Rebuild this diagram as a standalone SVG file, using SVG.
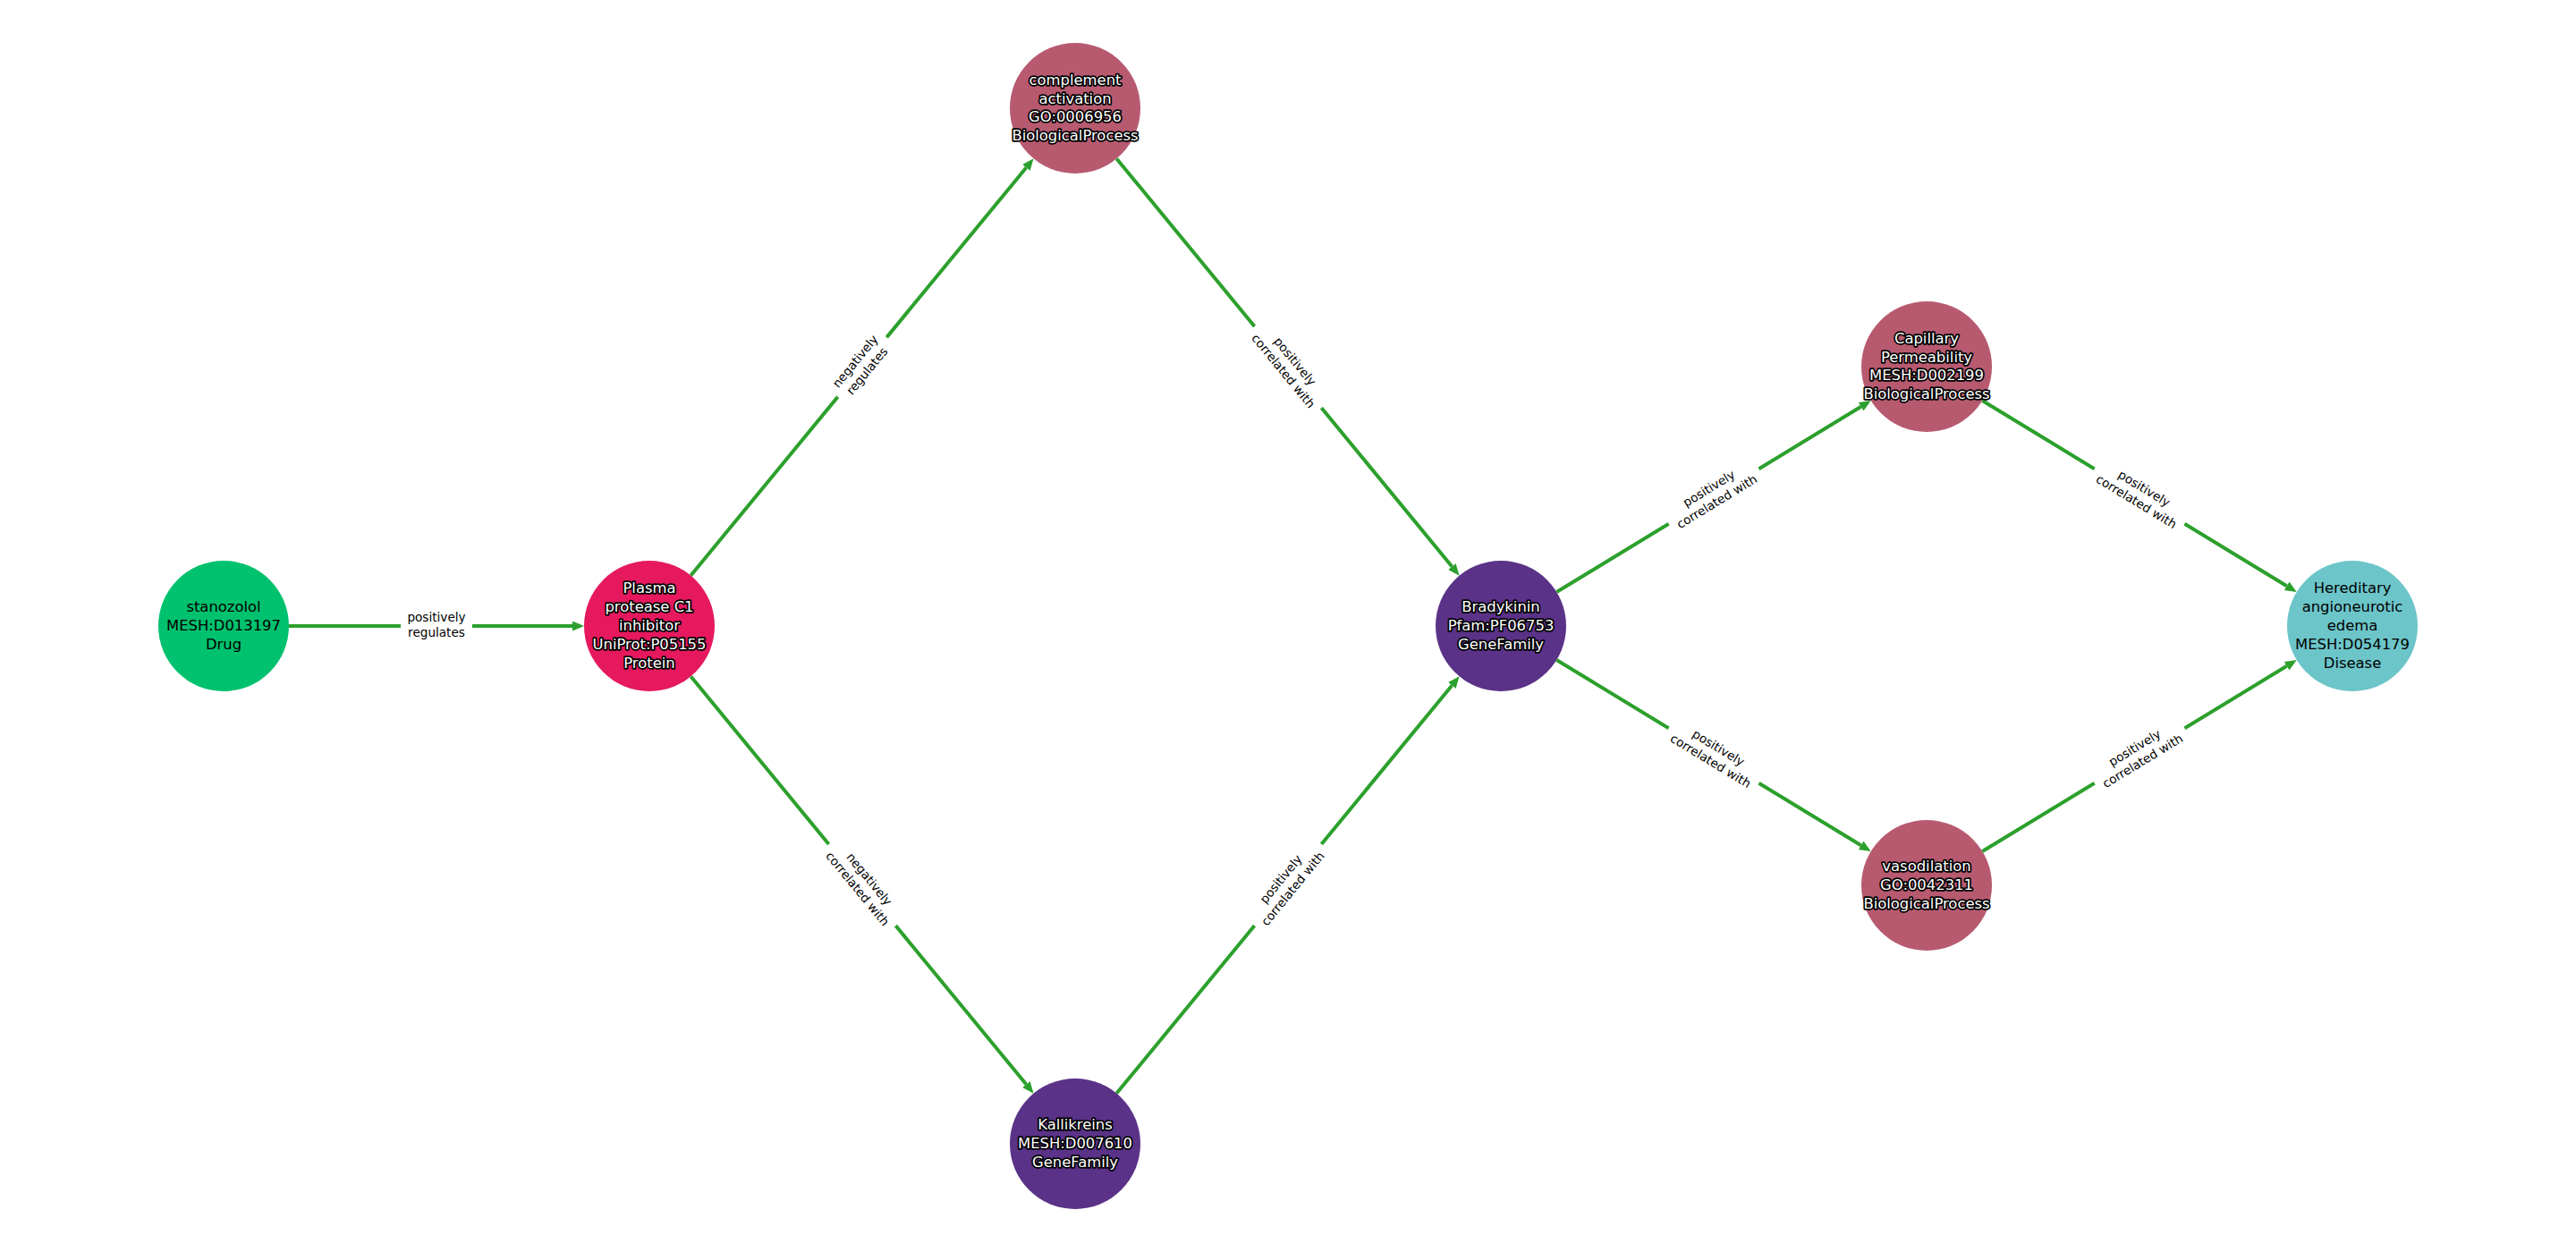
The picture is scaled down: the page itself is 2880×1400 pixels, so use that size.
<svg xmlns="http://www.w3.org/2000/svg" width="2880" height="1400" viewBox="0 0 2880 1400">
<defs>
<style>
.edge{stroke:#2ca02c;stroke-width:4;fill:none;marker-end:url(#arr)}
.lblbox{fill:#ffffff;stroke:#ffffff}
.lbl{font-family:"DejaVu Sans","Liberation Sans",sans-serif;font-size:13.6px;fill:#000000;text-anchor:middle}
.nt{font-family:"DejaVu Sans","Liberation Sans",sans-serif;font-size:16.4px;text-anchor:middle}
.nw{fill:#ffffff;stroke:#000000;stroke-width:3.5px;paint-order:stroke;stroke-linejoin:round}
.nb{fill:#000000}
</style>
<marker id="arr" markerUnits="userSpaceOnUse" markerWidth="14" markerHeight="12" refX="0" refY="5.5" orient="auto">
<path d="M0,0 L13,5.5 L0,11 z" fill="#2ca02c"/>
</marker>
</defs>
<rect width="2880" height="1400" fill="#ffffff"/>
<g id="edges">
<line class="edge" x1="323" y1="700" x2="640" y2="700"/>
<line class="edge" x1="772.4" y1="643.6" x2="1147.3" y2="187.4"/>
<line class="edge" x1="772.4" y1="756.4" x2="1147.3" y2="1212.6"/>
<line class="edge" x1="1248.4" y1="177.4" x2="1623.3" y2="633.6"/>
<line class="edge" x1="1248.4" y1="1222.6" x2="1623.3" y2="766.4"/>
<line class="edge" x1="1740.3" y1="662" x2="2080.6" y2="454.8"/>
<line class="edge" x1="1740.3" y1="738" x2="2080.6" y2="945.2"/>
<line class="edge" x1="2216.3" y1="448" x2="2556.6" y2="655.2"/>
<line class="edge" x1="2216.3" y1="952" x2="2556.6" y2="744.8"/>
<g transform="translate(488,700)"><rect class="lblbox" x="-39.5" y="-21" width="79" height="42" rx="6"/><text class="lbl"><tspan x="0" y="-5.5">positively</tspan><tspan x="0" y="11.5">regulates</tspan></text></g>
<g transform="translate(964,410.5) rotate(-50.6)"><rect class="lblbox" x="-42.5" y="-21" width="85" height="42" rx="6"/><text class="lbl"><tspan x="0" y="-5.5">negatively</tspan><tspan x="0" y="11.5">regulates</tspan></text></g>
<g transform="translate(964,989.5) rotate(50.6)"><rect class="lblbox" x="-58.5" y="-21" width="117" height="42" rx="6"/><text class="lbl"><tspan x="0" y="-5.5">negatively</tspan><tspan x="0" y="11.5">correlated with</tspan></text></g>
<g transform="translate(1440,410.5) rotate(50.6)"><rect class="lblbox" x="-58.5" y="-21" width="117" height="42" rx="6"/><text class="lbl"><tspan x="0" y="-5.5">positively</tspan><tspan x="0" y="11.5">correlated with</tspan></text></g>
<g transform="translate(1440,989.5) rotate(-50.6)"><rect class="lblbox" x="-58.5" y="-21" width="117" height="42" rx="6"/><text class="lbl"><tspan x="0" y="-5.5">positively</tspan><tspan x="0" y="11.5">correlated with</tspan></text></g>
<g transform="translate(1916,555) rotate(-31.35)"><rect class="lblbox" x="-58.5" y="-21" width="117" height="42" rx="6"/><text class="lbl"><tspan x="0" y="-5.5">positively</tspan><tspan x="0" y="11.5">correlated with</tspan></text></g>
<g transform="translate(1916,845) rotate(31.35)"><rect class="lblbox" x="-58.5" y="-21" width="117" height="42" rx="6"/><text class="lbl"><tspan x="0" y="-5.5">positively</tspan><tspan x="0" y="11.5">correlated with</tspan></text></g>
<g transform="translate(2392,555) rotate(31.35)"><rect class="lblbox" x="-58.5" y="-21" width="117" height="42" rx="6"/><text class="lbl"><tspan x="0" y="-5.5">positively</tspan><tspan x="0" y="11.5">correlated with</tspan></text></g>
<g transform="translate(2392,845) rotate(-31.35)"><rect class="lblbox" x="-58.5" y="-21" width="117" height="42" rx="6"/><text class="lbl"><tspan x="0" y="-5.5">positively</tspan><tspan x="0" y="11.5">correlated with</tspan></text></g>
</g>
<g id="node-stanozolol">
<circle cx="250" cy="700" r="73" fill="#00c16e"/>
<text class="nt nb"><tspan x="250" y="684.2">stanozolol</tspan><tspan x="250" y="705">MESH:D013197</tspan><tspan x="250" y="725.8">Drug</tspan></text>
</g>
<g id="node-plasma">
<circle cx="726" cy="700" r="73" fill="#e6195e"/>
<text class="nt nw"><tspan x="726" y="663.4">Plasma</tspan><tspan x="726" y="684.2">protease C1</tspan><tspan x="726" y="705">inhibitor</tspan><tspan x="726" y="725.8">UniProt:P05155</tspan><tspan x="726" y="746.6">Protein</tspan></text>
</g>
<g id="node-complement">
<circle cx="1202" cy="121" r="73" fill="#b75a70"/>
<text class="nt nw"><tspan x="1202" y="94.8">complement</tspan><tspan x="1202" y="115.6">activation</tspan><tspan x="1202" y="136.4">GO:0006956</tspan><tspan x="1202" y="157.2">BiologicalProcess</tspan></text>
</g>
<g id="node-kallikreins">
<circle cx="1202" cy="1279" r="73" fill="#5a3287"/>
<text class="nt nw"><tspan x="1202" y="1263.2">Kallikreins</tspan><tspan x="1202" y="1284">MESH:D007610</tspan><tspan x="1202" y="1304.8">GeneFamily</tspan></text>
</g>
<g id="node-bradykinin">
<circle cx="1678" cy="700" r="73" fill="#5a3287"/>
<text class="nt nw"><tspan x="1678" y="684.2">Bradykinin</tspan><tspan x="1678" y="705">Pfam:PF06753</tspan><tspan x="1678" y="725.8">GeneFamily</tspan></text>
</g>
<g id="node-capillary">
<circle cx="2154" cy="410" r="73" fill="#b75a70"/>
<text class="nt nw"><tspan x="2154" y="383.8">Capillary</tspan><tspan x="2154" y="404.6">Permeability</tspan><tspan x="2154" y="425.4">MESH:D002199</tspan><tspan x="2154" y="446.2">BiologicalProcess</tspan></text>
</g>
<g id="node-vasodilation">
<circle cx="2154" cy="990" r="73" fill="#b75a70"/>
<text class="nt nw"><tspan x="2154" y="974.2">vasodilation</tspan><tspan x="2154" y="995">GO:0042311</tspan><tspan x="2154" y="1015.8">BiologicalProcess</tspan></text>
</g>
<g id="node-hereditary">
<circle cx="2630" cy="700" r="73" fill="#6cc5c9"/>
<text class="nt nb"><tspan x="2630" y="663.4">Hereditary</tspan><tspan x="2630" y="684.2">angioneurotic</tspan><tspan x="2630" y="705">edema</tspan><tspan x="2630" y="725.8">MESH:D054179</tspan><tspan x="2630" y="746.6">Disease</tspan></text>
</g>
</svg>
